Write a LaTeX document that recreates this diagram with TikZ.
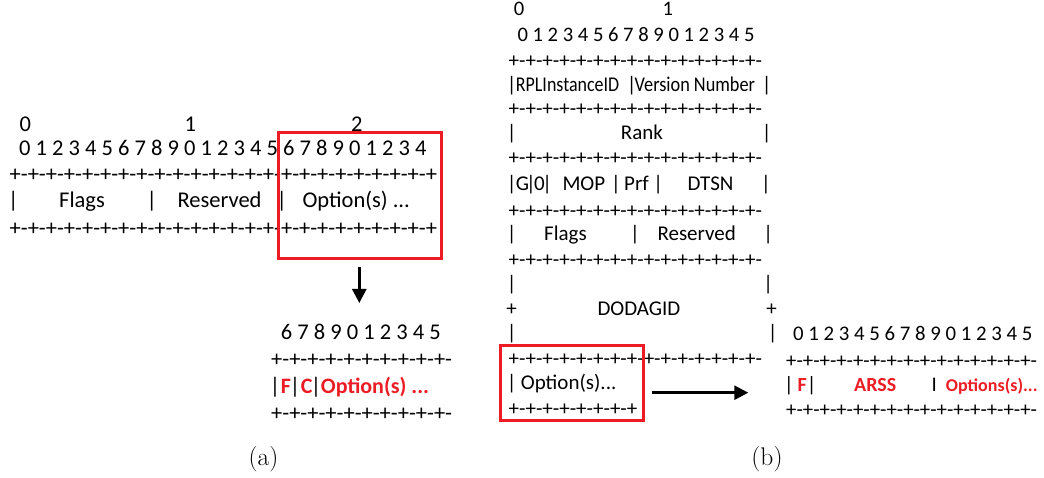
\documentclass[tikz,border=0pt]{standalone}
\usepackage{fontspec}
\usepackage{graphicx}
\newfontfamily\carl{Carlito}
\usetikzlibrary{arrows.meta}
\definecolor{rd}{RGB}{237,28,36}
\newcommand\pmrep[1]{\ifnum#1>0 +-\expandafter\pmrep\expandafter{\the\numexpr#1-1\relax}\fi}
\tikzset{
  ta/.style={inner sep=0pt, font=\carl\fontsize{22.5}{27}\selectfont},
  tb/.style={inner sep=0pt, font=\carl\fontsize{21}{25}\selectfont},
  tbd/.style={inner sep=0pt, font=\carl\fontsize{20.6}{25}\selectfont},
  tc/.style={inner sep=0pt, font=\carl\fontsize{20.8}{25}\selectfont},
  rba/.style={inner sep=0pt, text=rd, font=\carl\bfseries\fontsize{22}{26}\selectfont},
  rbc/.style={inner sep=0pt, text=rd, font=\carl\bfseries\fontsize{20}{24}\selectfont},
  rbs/.style={inner sep=0pt, text=rd, font=\carl\bfseries\fontsize{18}{21}\selectfont},
  L/.style={anchor=base west},
  C/.style={anchor=base},
  redbox/.style={draw=rd, line width=3pt, inner sep=0pt, fill=none},
  arr/.style={line width=2.5pt, -{Triangle[length=14pt,width=14pt]}},
  captxt/.style={inner sep=0pt, font=\fontsize{25.5}{30}\selectfont, anchor=base},
}
\begin{document}
\begin{tikzpicture}[x=1pt,y=-1pt]
\useasboundingbox (0,0) rectangle (1044,478);
% ---------------- (a) ----------------
\node[ta,C] (a0) at (25.3,131.5) {0};
\node[ta,C] (a1) at (190.3,131.5) {1};
\node[ta,C] (a2) at (356.7,131.5) {2};
\node[ta,L] (adig) at (19,156) {0 1 2 3 4 5 6 7 8 9 0 1 2 3 4 5 6 7 8 9 0 1 2 3 4};
\node[ta,L] (ar1) at (9.5,182) {\pmrep{23}+};
\node[ta,C] (ab1) at (13.3,208) {|};
\node[ta,L] (aflags) at (59,208) {Flags};
\node[ta,C] (ab2) at (151.7,208) {|};
\node[ta,L] (ares) at (177.3,208) {Reserved};
\node[ta,C] (ab3) at (281.7,208) {|};
\node[ta,L] (aopt) at (302.3,208) {Option(s) ...};
\node[ta,L] (ar2) at (9.5,235.5) {\pmrep{23}+};
\node[redbox, minimum width=163.7pt, minimum height=126.7pt] (boxA) at (359.85,195.65) {};
\coordinate (aS) at (359.3,267);
\coordinate (aE) at (359.3,303);
\draw[arr] (aS) -- (aE);
\node[ta,L] (adig2) at (280.7,339) {6 7 8 9 0 1 2 3 4 5};
\node[ta,L] (ar3) at (271,366.5) {\pmrep{10}};
\node[ta,C] (ac1) at (275,393) {|};
\node[rba,L] (acF) at (280.7,393) {F};
\node[ta,C] (ac2) at (295,393) {|};
\node[rba,L] (acC) at (300.7,393) {C};
\node[ta,C] (ac3) at (316,393) {|};
\node[rba,L] (acO) at (320.7,393) {Option(s) ...};
\node[ta,L] (ar4) at (271,420.5) {\pmrep{10}};
\node[captxt] (capa) at (263.5,465.5) {(a)};
% ---------------- (b) ----------------
\node[tbd,C] (b0) at (519.2,15.5) {0};
\node[tbd,C] (b1) at (667.8,15.5) {1};
\node[tbd,L] (bdig) at (517.3,41.7) {0 1 2 3 4 5 6 7 8 9 0 1 2 3 4 5};
\node[tb,L] (br1) at (508.5,67.5) {\pmrep{15}};
\node[tb,C] (bp1) at (511.7,91.7) {|};
\node[tb,L] (brpl) at (515.7,91.7) {\scalebox{0.855}[1]{RPLInstanceID}};
\node[tb,C] (bp2) at (631.7,91.7) {|};
\node[tb,L] (bver) at (634.5,91.7) {\scalebox{0.87}[1]{Version Number}};
\node[tb,C] (bp3) at (766.7,91.7) {|};
\node[tb,L] (br2) at (508.5,115.8) {\pmrep{15}};
\node[tb,C] (bq1) at (511.7,140) {|};
\node[tb,L] (brank) at (620.7,140) {Rank};
\node[tb,C] (bq2) at (766.7,140) {|};
\node[tb,L] (br3) at (508.5,164.2) {\pmrep{15}};
\node[tb,C] (bg1) at (511.7,190.7) {|};
\node[tb,L] (bG) at (515.7,190.7) {G};
\node[tb,C] (bg2) at (531,190.7) {|};
\node[tb,L] (bZ) at (534,190.7) {0};
\node[tb,C] (bg3) at (547.3,190.7) {|};
\node[tb,L] (bMOP) at (562.3,190.7) {MOP};
\node[tb,C] (bg4) at (616,190.7) {|};
\node[tb,L] (bPrf) at (624,190.7) {Prf};
\node[tb,C] (bg5) at (658.3,190.7) {|};
\node[tb,L] (bDTSN) at (687.3,190.7) {DTSN};
\node[tb,C] (bg6) at (766,190.7) {|};
\node[tb,L] (br4) at (508.5,217.5) {\pmrep{15}};
\node[tb,C] (bf1) at (511.7,240.7) {|};
\node[tb,L] (bflags) at (544,240.7) {Flags};
\node[tb,C] (bf2) at (635,240.7) {|};
\node[tb,L] (bres) at (657.3,240.7) {Reserved};
\node[tb,C] (bf3) at (768.3,240.7) {|};
\node[tb,L] (br5) at (508.5,266.8) {\pmrep{15}};
\node[tb,C] (bd1) at (511.7,290.7) {|};
\node[tb,C] (bd2) at (768.3,290.7) {|};
\node[tb,C] (bd3) at (511.7,316) {+};
\node[tb,L] (bdodag) at (597.3,316) {DODAGID};
\node[tb,C] (bd4) at (771.7,316) {+};
\node[tb,C] (bd5) at (511.7,339) {|};
\node[tb,C] (bd6) at (772.7,339) {|};
\node[tb,L] (br6) at (508.5,365.8) {\pmrep{15}};
\node[tb,C] (bo1) at (511.7,389.3) {|};
\node[tb,L] (bopt) at (520.7,389.3) {Option(s)...};
\node[tb,L] (br7) at (508.5,415.8) {\pmrep{7}+};
\node[redbox, minimum width=143.3pt, minimum height=75pt] (boxB) at (571.65,382.5) {};
\coordinate (bS) at (651.7,392.7);
\coordinate (bE) at (748.3,392.7);
\draw[arr] (bS) -- (bE);
% right part
\node[tc,L] (cdig) at (793,340.7) {0 1 2 3 4 5 6 7 8 9 0 1 2 3 4 5};
\node[tc,L] (cr1) at (786,367.5) {\pmrep{15}};
\node[tc,C] (cb1) at (789,391) {|};
\node[rbc,L] (cF) at (797.3,391) {F};
\node[tc,C] (cb2) at (811.7,391) {|};
\node[rbc,L] (cARSS) at (854,391) {ARSS};
\node[tc,C] (cI) at (934.3,391) {I};
\node[rbs,L] (cOpt) at (945.7,391) {Options(s)...};
\node[tc,L] (cr2) at (786,416.5) {\pmrep{15}};
\node[captxt] (capb) at (767,465.5) {(b)};
\end{tikzpicture}
\end{document}
